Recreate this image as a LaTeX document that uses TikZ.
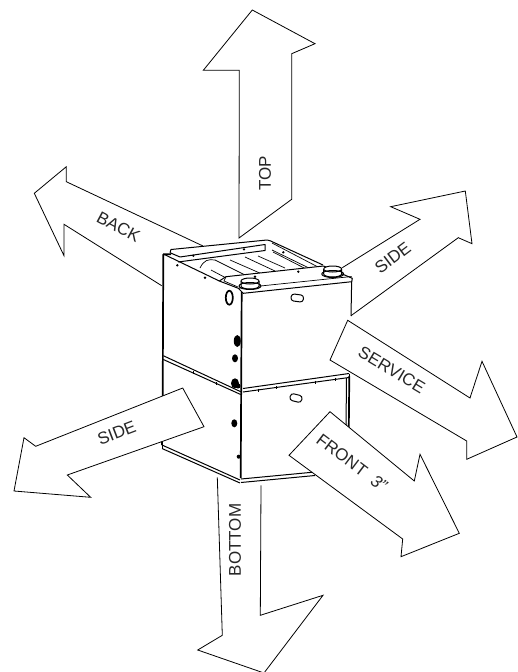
\documentclass[tikz,border=0pt]{standalone}
\usepackage{fontspec}
\setmainfont{Liberation Sans}
\tikzset{
  arrowshape/.style={draw=black, fill=white, line width=0.8pt, line join=miter},
  arrowlabel/.style={font=\fontsize{17}{18}\selectfont, text=black!85, inner sep=0pt},
  cabinet/.style={draw=black, line width=1pt, line join=round},
  cabinetedge/.style={draw=black, line width=1.7pt, line join=round},
  thinline/.style={draw=black, line width=0.7pt},
  screw/.style={fill=black}
}
\begin{document}
\begin{tikzpicture}[x=1pt, y=-1pt]
    \useasboundingbox (0,0) rectangle (517,672);

    % Freccia top
    \draw[arrowshape] (239,238) -- (239.3,70.3) -- (203.3,70.3) -- (252.3,10) -- (315,43.7) -- (291.7,53.7) -- (291.7,199.3) -- cycle;
    \node[arrowlabel, rotate=90] at (265,173) (top) {TOP};

    % Freccia back
    \draw[arrowshape] (203,246) -- (66.3,181.7) -- (66.3,166.7) -- (34.3,193.3) -- (64,255.7) -- (64,224.3) -- (161.7,285.7);
    \node[arrowlabel, rotate=-28] at (118.5,227) (back) {BACK};

    % Freccia side destra
    \draw[arrowshape] (342.3,267.7) -- (420,219.3) -- (390.7,206.7) -- (465.3,191) -- (472,243.7) -- (458.3,237.7) -- (351,315.7);
    \node[arrowlabel, rotate=37] at (392.7,258) (sideright) {SIDE};

    % Corpo superiore
    \draw[cabinetedge] (171,254.3) -- (163.3,254.3) -- (162.7,396);
    \draw[cabinetedge] (241.7,291.7) -- (240.7,478);
    \draw[cabinet] (351.7,279) -- (351,316);
    \draw[cabinet] (163.3,254) -- (219.3,281);
    \draw[cabinetedge] (162,445) -- (162.3,396);

    % Flangia posteriore
    \draw[cabinet] (170,252.7) -- (171,249.5) -- (267,240) -- (270,240.7) -- (323,265);
    \draw[cabinet] (170,252.7) -- (180,257) -- (265,244.5) -- (265,250.5) -- (178,262);
    \draw[thinline] (272,243) -- (318,267);
    \draw[thinline] (272,250) -- (313,270);
    \draw[thinline] (273,252) -- (309,270.5);

    % Motore e lamelle
    \draw[thinline] (200,268) .. controls (204,260) and (208,259) .. (215,260);
    \draw[thinline] (211,270) -- (228,279);
    \draw[thinline] (215,260) -- (247,276);
    \draw[thinline] (230,260) -- (262,274);
    \draw[thinline] (245,257) -- (275,271);
    \draw[thinline] (258,256) -- (285,268);

    % Flangia anteriore
    \draw[cabinet, fill=white] (219.3,281) -- (226,276.7) -- (323.5,266) -- (352.3,278.3) -- (351.7,281.7) -- (243.3,293.3) -- (238.3,288.3) -- cycle;
    \draw[thinline] (226,276.7) -- (224,281) -- (238,287);
    \draw[thinline] (238.3,288.3) -- (351.7,276.5);

    % Raccordi
    \foreach \cx/\cy in {250/286, 332.7/274}{
      \draw[cabinet, fill=white] (\cx-9,\cy-5) -- (\cx-9,\cy) arc[start angle=180, end angle=360, x radius=9pt, y radius=3pt] -- (\cx+9,\cy-5);
      \draw[cabinet, fill=white] (\cx,\cy-5) ellipse [x radius=9pt, y radius=3pt];
      \draw[cabinet] (\cx,\cy) ellipse [x radius=11pt, y radius=3.5pt];
    }

    % Fori
    \draw[line width=1.7pt, fill=white] (229.3,297.7) ellipse [x radius=3.5pt, y radius=7pt];
    \draw[cabinet, rounded corners=3pt, rotate around={-8:(297.3,298)}] (291,294.5) rectangle (303.5,301.5);
    \draw[cabinet, rounded corners=3pt, rotate around={-14:(296,398)}] (290,394.5) rectangle (302,401.5);
    \fill[screw] (237.3,341) ellipse [x radius=3.5pt, y radius=6pt];
    \fill[screw] (235,358.3) ellipse [x radius=3pt, y radius=4pt];
    \fill[screw] (235,383.3) ellipse [x radius=4pt, y radius=5pt];
    \fill[screw] (238,386) circle (2.5pt);
    \fill[screw] (234.3,423.3) ellipse [x radius=3pt, y radius=4pt];
    \fill[screw] (238.7,456.7) circle (2pt);

    % Viti
    \foreach \vx/\vy in {177.3/265.3, 205/277.7, 193.3/255.7, 244/249.3, 283.3/252.3, 298.3/271.7, 255/276.7}{
      \fill[screw] (\vx,\vy) circle (1.3pt);
    }

    % Giunto centrale
    \draw[cabinet] (163.3,355.7) -- (240.7,391.7);
    \draw[cabinet] (163.3,359.5) -- (240.7,394.5);
    \draw[cabinet] (243,388.5) -- (349,373.5);
    \draw[cabinet] (243,392) -- (349,377.5);
    \draw[cabinet] (349,373.5) -- (349,377.5);
    \foreach \sx/\sy in {193/371, 216/382, 258/388.5, 276/386, 315/380.5, 335/377.5}{
      \draw[cabinet] (\sx,\sy) -- (\sx,\sy+3);
    }

    % Corpo inferiore
    \draw[cabinetedge] (349.3,376) -- (348.8,428);
    \draw[cabinet] (346.5,378) -- (346,428);
    \draw[cabinet] (162,445) -- (240,480);
    \draw[cabinet] (162,448.5) -- (240,483);
    \draw[cabinet] (162,445) -- (162,448.5);
    \draw[cabinet] (241,479) -- (315,472);
    \draw[cabinet] (241,482.5) -- (315,475.5);

    % Freccia service
    \draw[arrowshape] (347.7,320.3) -- (470,398) -- (482,361.3) -- (517,437) -- (466.7,459.3) -- (466.7,441) -- (330,360) -- cycle;
    \node[arrowlabel, rotate=-31] at (391.7,370) (service) {SERVICE};

    % Freccia side sinistra
    \draw[arrowshape] (182.7,388) -- (204,426.7) -- (67.3,475) -- (90.7,497.3) -- (14,491) -- (24,437.7) -- (35.7,446.3) -- cycle;
    \node[arrowlabel, rotate=21] at (116.7,432.7) (sideleft) {SIDE};

    % Freccia front
    \draw[arrowshape] (330,411.7) -- (414.3,481) -- (420,454.3) -- (459.3,533.3) -- (401,556.7) -- (402.7,539) -- (289,455.3) -- cycle;
    \node[arrowlabel, rotate=-37] at (352,462.7) (front) {FRONT\hspace{0.55em}\textit{3”}};

    % Freccia bottom
    \draw[arrowshape, fill=none] (217.3,477.3) -- (222.3,635.3) -- (197.7,650) -- (264,673) -- (323,595.3) -- (260.3,615.3) -- (261,485.3);
    \node[arrowlabel, rotate=90] at (235,540) (bottom) {BOTTOM};
\end{tikzpicture}
\end{document}
